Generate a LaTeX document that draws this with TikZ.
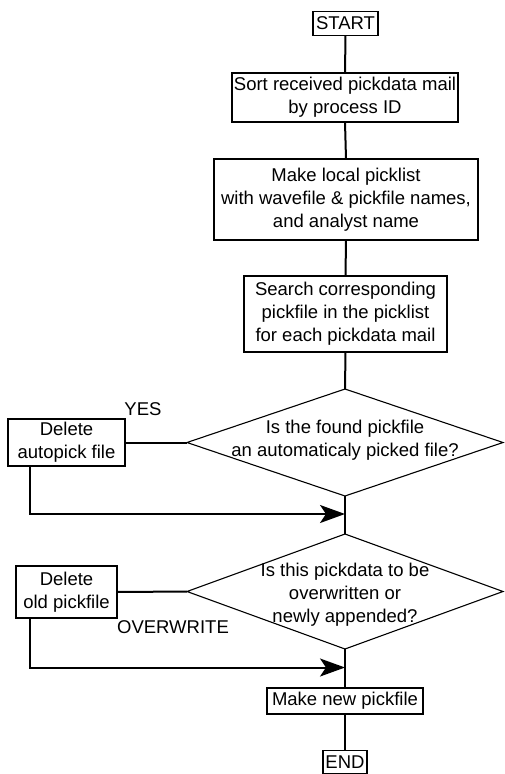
\documentclass[tikz,border=0pt]{standalone}
\usepackage{fontspec}
\setmainfont{Liberation Sans}
\usetikzlibrary{shapes.geometric,arrows.meta}
\tikzset{
  box/.style={draw, line width=1.1pt, align=center, inner sep=1pt, outer sep=0pt,
    font=\fontsize{18.5}{23}\selectfont},
  dia/.style={draw, diamond, line width=1.1pt, inner sep=0pt, outer sep=0pt},
  txt/.style={align=center, inner sep=0pt, font=\fontsize{18.5}{23}\selectfont},
  conn/.style={line width=2pt},
  arr/.style={line width=2pt, -{Stealth[length=25pt, width=18pt, inset=6pt]}}
}
\begin{document}
\begin{tikzpicture}[x=1pt,y=-1pt]
\useasboundingbox (0,0) rectangle (504,774);
\node[box, minimum width=65pt, minimum height=24pt] (start) at (345.5,23.5) {START};
\node[box, minimum width=226pt, minimum height=49pt] (sort) at (345,97.5) {Sort received pickdata mail\\by process ID};
\node[box, minimum width=264pt, minimum height=81pt] (local) at (346,199.5) {Make local picklist\\with wavefile \& pickfile names,\\and analyst name};
\node[box, minimum width=203pt, minimum height=76pt] (search) at (345.5,314) {Search corresponding\\pickfile in the picklist\\for each pickdata mail};
\node[dia, minimum width=316pt, minimum height=107pt] (d1) at (345,442.5) {};
\node[txt] (t1) at (345,440) {Is the found pickfile\\an automaticaly picked file?};
\node[box, minimum width=117pt, minimum height=47pt] (del1) at (66.5,442.5) {Delete\\autopick file};
\node[txt] (yes) at (143,409) {YES};
\node[dia, minimum width=316pt, minimum height=115pt] (d2) at (345,591.5) {};
\node[txt] (t2) at (345,595) {Is this pickdata to be\\overwritten or\\newly appended?};
\node[box, minimum width=101pt, minimum height=52pt] (del2) at (66.5,592) {Delete\\old pickfile};
\node[txt] (ow) at (173,627) {OVERWRITE};
\node[box, minimum width=156pt, minimum height=26pt] (newp) at (345,701) {Make new pickfile};
\node[box, minimum width=44pt, minimum height=23pt] (end) at (345,762) {END};
\coordinate (j1) at (345,514);
\coordinate (j2) at (345,667.5);
\draw[conn] (start.south) -- (sort.north);
\draw[conn] (sort.south) -- (local.north);
\draw[conn] (local.south) -- (search.north);
\draw[conn] (search.south) -- (d1.north);
\draw[conn] (d1.south) -- (d2.north);
\draw[conn] (d2.south) -- (newp.north);
\draw[conn] (newp.south) -- (end.north);
\draw[conn] (del1.east) -- (d1.west);
\draw[conn] (del2.east) -- (d2.west);
\draw[arr] ([xshift=22pt]del1.south west) |- (j1);
\draw[arr] ([xshift=14pt]del2.south west) |- (j2);
\end{tikzpicture}
\end{document}
